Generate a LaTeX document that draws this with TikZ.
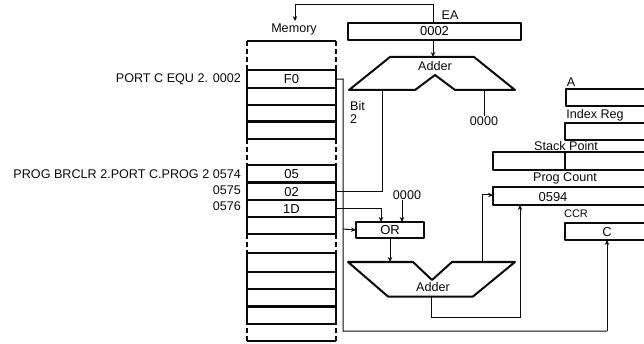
\documentclass[tikz,border=0pt]{standalone}
\usepackage{fontspec}
\setmainfont{Liberation Sans}
\usetikzlibrary{arrows.meta}
\tikzset{
  x=1pt,y=-1pt,
  heavy/.style={draw=ink,line width=2pt,line join=round},
  cell/.style={heavy,anchor=north west,inner sep=0pt,outer sep=0pt,minimum width=89pt,minimum height=#1,font=\fontsize{13}{13}\selectfont},
  cell/.default=17.5pt,
  regbox/.style={heavy,anchor=north west,inner sep=0pt,outer sep=0pt},
  link/.style={draw=ink,line width=1pt},
  flow/.style={link,-{Stealth[length=5pt,width=4.5pt]}},
  side/.style={draw=ink,line width=2pt,dash pattern=on 5pt off 3pt},
  solidedge/.style={draw=ink,line width=2pt},
  lbl/.style={inner sep=0pt,text=ink,font=\fontsize{12.6}{13.5}\selectfont},
  lblr/.style={lbl,anchor=east}
}
\definecolor{ink}{HTML}{0A0A0A}
\begin{document}
\begin{tikzpicture}
\path[use as bounding box,clip] (0,0) rectangle (644,344);
% Memory column
\node[lbl] (memlabel) at (294,29) {Memory};
\node[cell=29pt,draw=none] (mtop) at (247,41) {};
\draw[side] (mtop.north west) -- (mtop.south west);
\draw[side] (mtop.north east) -- (mtop.south east);
\draw[solidedge] (mtop.north west) -- (mtop.north east);
\node[cell] (f0) at (247,70.5) {F0};
\node[cell] (r1) at (247,88) {};
\node[cell] (r2) at (247,105) {};
\node[cell] (r3) at (247,121.5) {};
\node[cell=26pt,draw=none] (gapa) at (247,139) {};
\draw[side] (gapa.north west) -- (gapa.south west);
\draw[side] (gapa.north east) -- (gapa.south east);
\node[cell] (m05) at (247,165) {05};
\node[cell] (m02) at (247,183) {02};
\node[cell] (m1d) at (247,200) {1D};
\node[cell] (r4) at (247,217) {};
\node[cell=19pt,draw=none] (gapb) at (247,234.5) {};
\draw[side] (gapb.north west) -- (gapb.south west);
\draw[side] (gapb.north east) -- (gapb.south east);
\node[cell=18.5pt] (r5) at (247,253) {};
\node[cell] (r6) at (247,271.5) {};
\node[cell] (r7) at (247,289) {};
\node[cell] (r8) at (247,306) {};
\node[cell=17pt,draw=none] (mbot) at (247,323.5) {};
\draw[side] (mbot.south west) -- (mbot.north west);
\draw[side] (mbot.south east) -- (mbot.north east);
\draw[solidedge] (mbot.south west) -- (mbot.south east);
% Left labels
\node[lblr] (pl1) at (241,79) {PORT C EQU 2. 0002};
\node[lblr] (pl2) at (241,174) {PROG BRCLR 2.PORT C.PROG 2 0574};
\node[lblr] (pl3) at (241,190) {0575};
\node[lblr] (pl4) at (241,206) {0576};
% EA register and upper adder
\node[lbl] (ealabel) at (450,15) {EA};
\node[regbox,minimum width=173pt,minimum height=17pt,font=\fontsize{13}{13}\selectfont] (ea) at (348,23) {0002};
\draw[heavy] (349,90) -- (390,57) -- (474,57) -- (515,90) -- (455,90) -- (435,75) -- (415,90) -- cycle;
\coordinate (atop) at (433,57);
\coordinate (aleft) at (382,90);
\coordinate (aright) at (484,90);
\node[lbl] (adderup) at (435,66) {Adder};
\node[lbl,align=left,anchor=north west] (bitlbl) at (350,101) {Bit\\2};
\node[lbl] (zero1) at (484,121) {0000};
% OR and lower adder
\node[lbl] (zero2) at (407,195) {0000};
\node[regbox,minimum width=68pt,minimum height=16pt,font=\fontsize{13}{13}\selectfont] (or) at (356,222) {OR};
\draw[heavy] (348,262) -- (413,262) -- (432,280) -- (452,262) -- (515,262) -- (473,296.5) -- (388,296.5) -- cycle;
\coordinate (bin) at (390,262);
\coordinate (bout) at (431,296.5);
\coordinate (bright) at (482,262);
\node[lbl] (adderlow) at (433,287) {Adder};
% Registers (open at the right edge)
\node[lbl] (alabel) at (571,82) {A};
\node[regbox,minimum width=90pt,minimum height=17pt] (rega) at (566,89) {};
\node[lbl] (ixlabel) at (595,115) {Index Reg};
\node[regbox,minimum width=90pt,minimum height=17pt] (regix) at (565,123) {};
\node[regbox,minimum width=170pt,minimum height=18pt] (regsp) at (493,152) {};
\draw[heavy] (565,152) -- (565,170);
\node[lbl] (splabel) at (566,146) {Stack Point};
\node[lbl] (pclabel) at (565,178) {Prog Count};
\node[regbox,minimum width=170pt,minimum height=18pt] (regpc) at (493,187) {};
\node[lbl,font=\fontsize{13}{13}\selectfont] (pcval) at (553,197) {0594};
\node[lbl,font=\fontsize{11}{11}\selectfont] (ccrlabel) at (576,214) {CCR};
\node[regbox,minimum width=90pt,minimum height=17pt] (regc) at (565,223) {};
\node[lbl,font=\fontsize{13}{13}\selectfont] (cval) at (607,232) {C};
% Ports and turning points
\coordinate (pcin) at (493,195);
\coordinate (pcbot) at (520,205);
\coordinate (cbot) at (607,240);
\coordinate (orin1) at (381,222);
\coordinate (orin2) at (402,222);
\coordinate (bus) at (343,229);
% Connectors
\draw[flow] (ea.north -| atop) |- (295,5) -- (295,21);
\draw[flow] (ea.south -| atop) -- (atop);
\draw[link] (aleft) |- (m02.east);
\draw[link] (aright) -- (zero1.north -| aright);
\draw[link] (f0.east) -- (343,79) -- (343,331) -- (607,331);
\draw[flow] (607,331) -- (cbot);
\draw[flow] (m1d.east) -| (orin1);
\draw[flow] (zero2.south -| orin2) -- (orin2);
\draw[flow] (bus) -- (or.west);
\draw[flow] (or.south -| bin) -- (bin);
\draw[flow] (bout) |- (520,317) -- (pcbot);
\draw[flow] (bright) |- (pcin);
\end{tikzpicture}
\end{document}
